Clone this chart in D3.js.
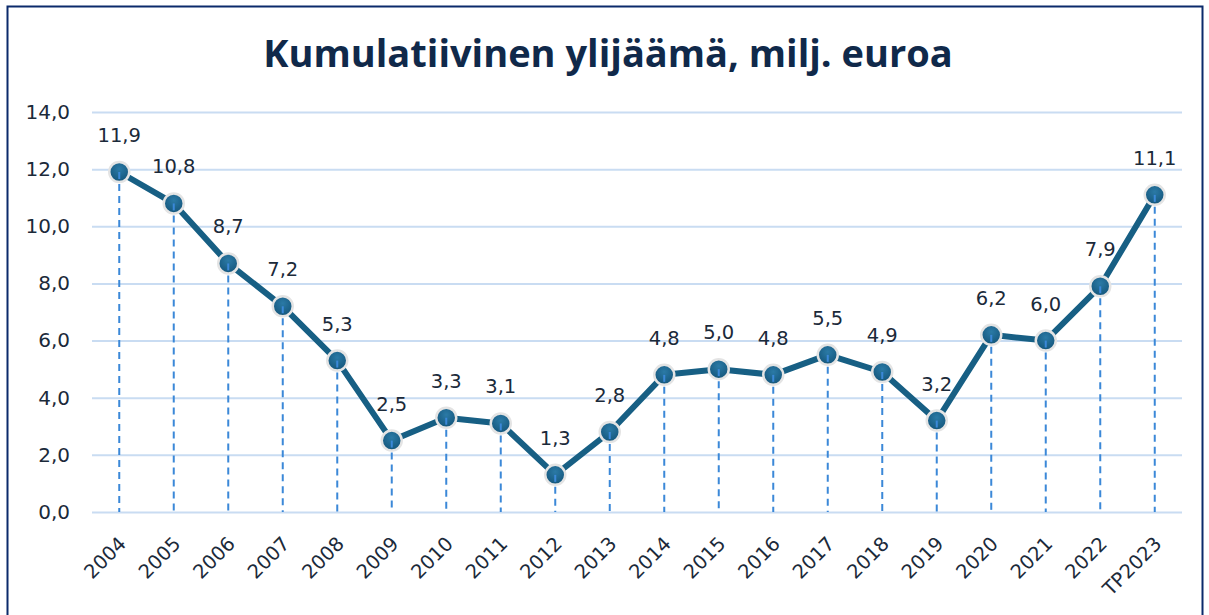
<!DOCTYPE html>
<html>
<head>
<meta charset="utf-8">
<script src="https://cdn.jsdelivr.net/npm/d3@7"></script>
<style>
  body { margin: 0; background: #fff; }
  svg { display: block; }
  .chart_label { font-family: "DejaVu Sans", sans-serif; fill: #1b2a3a; }
</style>
</head>
<body>
<div id="chart"></div>
<script>
const years = ['2004','2005','2006','2007','2008','2009','2010','2011','2012','2013',
  '2014','2015','2016','2017','2018','2019','2020','2021','2022','TP2023'];
const surplus = [11.9, 10.8, 8.7, 7.2, 5.3, 2.5, 3.3, 3.1, 1.3, 2.8,
  4.8, 5.0, 4.8, 5.5, 4.9, 3.2, 6.2, 6.0, 7.9, 11.1];
const yTicks = [0, 2, 4, 6, 8, 10, 12, 14];
const title = 'Kumulatiivinen ylijäämä, milj. euroa';

const width = 1209, height = 615;
const plot = { left: 92, right: 1182, top: 112, bottom: 512 };
const fmt = v => v.toFixed(1).replace('.', ',');

const data = years.map((y, i) => ({ year: y, value: surplus[i] }));

const svg = d3.select('#chart').append('svg')
  .attr('width', width)
  .attr('height', height);

// frame
svg.append('rect')
  .attr('x', 7.5).attr('y', 6.5)
  .attr('width', 1195).attr('height', 640)
  .attr('fill', '#fff')
  .attr('stroke', '#0b2a6b')
  .attr('stroke-width', 2);

const defs = svg.append('defs');
const grad = defs.append('radialGradient')
  .attr('id', 'dotFill')
  .attr('cx', '50%').attr('cy', '35%').attr('r', '65%');
grad.append('stop').attr('offset', '0%').attr('stop-color', '#2b7aa6');
grad.append('stop').attr('offset', '100%').attr('stop-color', '#14557a');

svg.append('text')
  .attr('x', 608).attr('y', 67)
  .attr('text-anchor', 'middle')
  .attr('font-family', '"Open Sans", sans-serif')
  .attr('font-weight', 700)
  .attr('font-size', 38)
  .attr('fill', '#10294a')
  .text(title);

const x = d3.scaleBand()
  .domain(years)
  .range([plot.left, plot.right]);

const y = d3.scaleLinear()
  .domain([0, 14])
  .range([plot.bottom, plot.top]);

// y grid + labels
const yAxis = svg.append('g')
  .attr('transform', 'translate(' + plot.left + ',0)')
  .call(d3.axisLeft(y).tickValues(yTicks).tickFormat(fmt).tickSize(-(plot.right - plot.left)).tickPadding(22));
yAxis.select('.domain').remove();
yAxis.selectAll('.tick line').attr('stroke', '#c9dcf2').attr('stroke-width', 2);
yAxis.selectAll('.tick text')
  .attr('class', 'chart_label')
  .attr('font-size', 20);

// x labels
const xAxis = svg.append('g')
  .attr('transform', 'translate(0,' + plot.bottom + ')')
  .call(d3.axisBottom(x).tickSize(0).tickPadding(0));
xAxis.select('.domain').remove();
xAxis.selectAll('.tick text')
  .attr('class', 'chart_label')
  .attr('font-size', 19.5)
  .attr('text-anchor', 'end')
  .attr('dy', 0)
  .attr('transform', 'translate(8,33) rotate(-45)');

const cx = d => x(d.year) + x.bandwidth() / 2;

// drop lines
svg.append('g').selectAll('line')
  .data(data)
  .enter().append('line')
    .attr('x1', cx).attr('x2', cx)
    .attr('y1', d => y(d.value)).attr('y2', plot.bottom)
    .attr('stroke', '#3b88d8')
    .attr('stroke-width', 2)
    .attr('stroke-dasharray', '7,5');

const line = d3.line()
  .x(cx)
  .y(d => y(d.value));

svg.append('path')
  .attr('d', line(data))
  .attr('fill', 'none')
  .attr('stroke', '#175f84')
  .attr('stroke-width', 6)
  .attr('stroke-linejoin', 'round');

svg.append('g').selectAll('circle')
  .data(data)
  .enter().append('circle')
    .attr('cx', cx)
    .attr('cy', d => y(d.value))
    .attr('r', 10)
    .attr('fill', 'url(#dotFill)')
    .attr('stroke', '#e4e4e4')
    .attr('stroke-width', 2.5);

// little dashed tick inside dot (drop line shows through)
svg.append('g').selectAll('line')
  .data(data)
  .enter().append('line')
    .attr('x1', cx).attr('x2', cx)
    .attr('y1', d => y(d.value)).attr('y2', d => y(d.value) + 7)
    .attr('stroke', '#3b88d8')
    .attr('stroke-width', 2);

svg.append('g').selectAll('text')
  .data(data)
  .enter().append('text')
    .attr('class', 'chart_label')
    .attr('x', cx)
    .attr('y', d => y(d.value) - 30)
    .attr('text-anchor', 'middle')
    .attr('font-size', 19.5)
    .text(d => fmt(d.value));
</script>
</body>
</html>
